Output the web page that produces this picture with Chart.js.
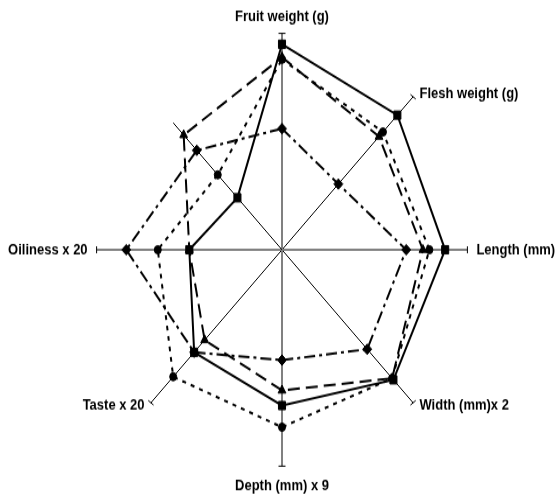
<!DOCTYPE html>
<html>
<head>
<meta charset="utf-8">
<script src="https://cdn.jsdelivr.net/npm/chart.js@4/dist/chart.umd.min.js"></script>
<style>
  html, body { margin: 0; padding: 0; background: #fff; }
  #radar { display: block; }
</style>
</head>
<body>
<!-- drawn at 556x431, shown at 556x503: the original chart is stretched vertically -->
<canvas id="radar" width="556" height="431" style="width:556px;height:503px"></canvas>
<script>
const categories = ["Fruit weight (g)", "Flesh weight (g)", "Length (mm)", "Width (mm)x 2",
  "Depth (mm) x 9", "Taste x 20", "Oiliness x 20", ""];
const squareValues = [95, 88, 88, 85, 72, 67, 50, 34];
const triangleValues = [89, 74, 76, 84, 65, 59, 50, 75];
const diamondValues = [56, 43, 67, 65, 51, 67, 84, 65];
const circleValues = [88, 77, 79.5, 84, 82, 83, 67, 49];
const axisMax = 100;

const stretch = 503 / 431;
const labelPad = 9;
const labelFont = { family: "'Liberation Sans', Arial, sans-serif", size: 13, weight: "bold" };
const shortSpoke = 0.83; // the unlabeled spoke stops short in the original

// small ticks across the end of each spoke, plus the short unlabeled spoke
const spokeTicks = {
  id: "spokeTicks",
  beforeDatasetsDraw(chart) {
    const scale = chart.scales.r;
    const ctx = chart.ctx;
    ctx.save();
    ctx.strokeStyle = "#000";
    ctx.lineWidth = 1;
    for (let i = 0; i < categories.length; i++) {
      if (!categories[i]) {
        const end = scale.getPointPosition(i, scale.drawingArea * shortSpoke);
        ctx.beginPath();
        ctx.moveTo(scale.xCenter, scale.yCenter);
        ctx.lineTo(end.x, end.y);
        ctx.stroke();
        continue;
      }
      const p = scale.getPointPosition(i, scale.drawingArea);
      const a = scale.getIndexAngle(i) - Math.PI / 2;
      let dx = Math.cos(a), dy = Math.sin(a) * stretch;
      const len = Math.hypot(dx, dy);
      dx /= len; dy /= len;
      const px = -dy * 3.5, py = dx * 3.5 / stretch;
      ctx.beginPath();
      ctx.moveTo(p.x - px, p.y - py);
      ctx.lineTo(p.x + px, p.y + py);
      ctx.stroke();
    }
    ctx.restore();
  }
};

function series(label, values, style, radius, dash) {
  return {
    label,
    data: values,
    borderColor: "#000",
    borderWidth: 2,
    borderDash: dash,
    backgroundColor: "transparent",
    fill: false,
    pointStyle: style,
    pointRadius: radius,
    pointBorderWidth: 1,
    pointBackgroundColor: "#000",
    pointBorderColor: "#000"
  };
}

const ctx = document.getElementById("radar").getContext("2d");
new Chart(ctx, {
  type: "radar",
  data: {
    labels: categories,
    datasets: [
      series("Series 1", squareValues, "rect", 5, []),
      series("Series 2", triangleValues, "triangle", 4.5, [12, 6]),
      series("Series 3", diamondValues, "rectRot", 4.5, [11, 4, 3, 4]),
      series("Series 4", circleValues, "circle", 3.5, [4, 5])
    ]
  },
  options: {
    responsive: false,
    devicePixelRatio: 1,
    animation: false,
    layout: { autoPadding: false, padding: { left: 8, right: 0, top: 5, bottom: 6 } },
    elements: { line: { tension: 0 } },
    plugins: { legend: { display: false }, tooltip: { enabled: false } },
    scales: {
      r: {
        min: 0,
        max: axisMax,
        ticks: { display: false },
        grid: { display: false },
        angleLines: {
          color: (c) => (!categories[c.index] ? "transparent" : c.index % 2 === 0 ? "#808080" : "#000"),
          lineWidth: (c) => (c.index % 2 === 0 ? 2 : 1)
        },
        pointLabels: { font: labelFont, color: "#000", padding: labelPad },
        afterFit: (scale) => {
          // diagonal labels sit level with the end of their spoke
          const items = scale._pointLabelItems;
          if (!items) return;
          const lh = labelFont.size * 1.2;
          items.forEach((item, i) => {
            if (i === 0) {
              item.y += 3;
              item.top += 3;
              item.bottom += 3;
              return;
            }
            if (i % 2 === 0) return;
            const anchor = scale.getPointPosition(i, scale.drawingArea + labelPad);
            const shift = anchor.y < scale.yCenter ? 4 : -4;
            item.y = anchor.y + shift - lh / 2;
            item.top = item.y;
            item.bottom = item.y + lh;
          });
        }
      }
    }
  },
  plugins: [spokeTicks]
});
</script>
</body>
</html>
